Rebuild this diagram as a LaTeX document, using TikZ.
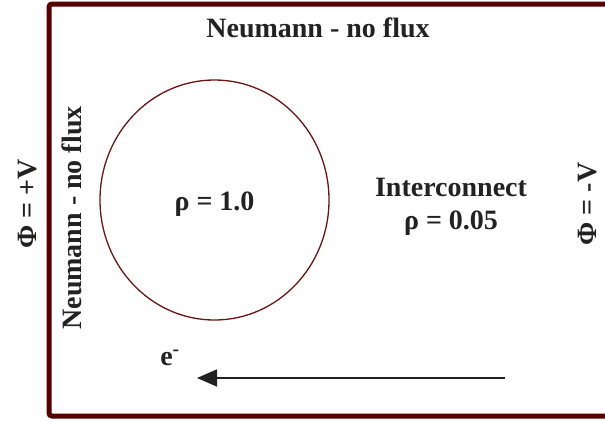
\documentclass[tikz,border=0pt]{standalone}
\usepackage{fontspec}
\setmainfont{Liberation Serif}
\usetikzlibrary{arrows.meta,shapes.geometric}
\definecolor{borderred}{HTML}{580000}
\definecolor{blobred}{HTML}{6A1414}
\definecolor{txt}{HTML}{222222}
\begin{document}
\begin{tikzpicture}[x=1pt,y=-1pt,
  lbl/.style={font=\fontsize{28}{30}\selectfont\bfseries, text=txt, inner sep=0pt},
  frame/.style={draw=borderred, line width=5pt, rounded corners=3pt},
  blob/.style={draw=blobred, line width=1.3pt, ellipse, inner sep=0pt},
  flow/.style={draw=txt, line width=1.6pt, -{Triangle[length=20pt,width=17pt]}}]
\useasboundingbox (0,0) rectangle (605,421);
\begin{scope}
\clip (0,0) rectangle (605,421);
\draw[frame] (49,4) rectangle (640,416);
\end{scope}
\node[blob, minimum width=229pt, minimum height=240pt] (region) at (214.5,200) {};
\node[lbl, anchor=base] (top) at (318,37) {Neumann - no flux};
\node[lbl, anchor=base] (rho1) at (214.5,210) {ρ = 1.0};
\node[lbl, anchor=base] (inter) at (451,196) {Interconnect};
\node[lbl, anchor=base] (rho2) at (451,229) {ρ = 0.05};
\node[lbl, anchor=base, rotate=90] (left) at (81,218) {Neumann - no flux};
\node[lbl, anchor=base, rotate=90] (phip) at (36,204) {Φ = +V};
\node[lbl, anchor=base, rotate=90] (phim) at (596,204) {Φ = -V};
\node[lbl, anchor=base] (elec) at (170,365) {e\textsuperscript{-}};
\coordinate (astart) at (505,378);
\coordinate (aend) at (197,378);
\draw[flow] (astart) -- (aend);
\end{tikzpicture}
\end{document}
